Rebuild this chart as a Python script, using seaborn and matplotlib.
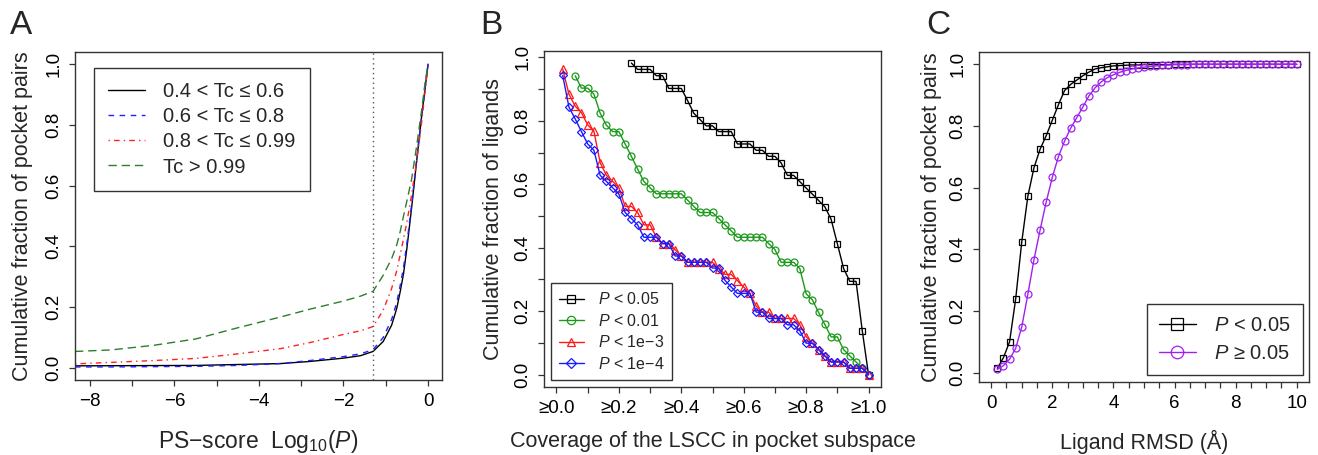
import numpy as np
import pandas as pd
import matplotlib
matplotlib.use('Agg')
import matplotlib.pyplot as plt
import seaborn as sns
from matplotlib.ticker import MultipleLocator

# ---- panel A: cumulative fraction vs log10(P) ----
a_x = [-8.35, -7.5, -6.5, -5.5, -4.5, -3.5, -2.8, -2.0, -1.6, -1.3,
       -1.06, -0.86, -0.74, -0.66, -0.58, -0.5, -0.39, -0.27, -0.15, -0.07, 0.0]
a_tc1 = [0.0066, 0.007, 0.0075, 0.008, 0.011, 0.014, 0.021, 0.032, 0.040, 0.054,
         0.087, 0.141, 0.196, 0.25, 0.31, 0.394, 0.525, 0.68, 0.83, 0.92, 1.0]
a_tc2 = [0.003, 0.003, 0.004, 0.005, 0.008, 0.014, 0.024, 0.037, 0.046, 0.060,
         0.100, 0.160, 0.215, 0.27, 0.33, 0.41, 0.535, 0.685, 0.83, 0.92, 1.0]
a_tc3 = [0.013, 0.018, 0.024, 0.031, 0.046, 0.063, 0.083, 0.110, 0.122, 0.136,
         0.19, 0.262, 0.32, 0.372, 0.425, 0.48, 0.569, 0.68, 0.81, 0.91, 1.0]
a_tc4 = [0.054, 0.059, 0.074, 0.095, 0.132, 0.167, 0.193, 0.220, 0.236, 0.252,
         0.305, 0.36, 0.405, 0.448, 0.50, 0.55, 0.62, 0.73, 0.85, 0.94, 1.0]
a_labels = ['0.4 < Tc \u2264 0.6', '0.6 < Tc \u2264 0.8',
            '0.8 < Tc \u2264 0.99', 'Tc > 0.99']
p_cut = 0.05

# ---- panel B: cumulative fraction of ligands vs LSCC coverage ----
b_x_p05 = [0.24, 0.26, 0.28, 0.30, 0.32, 0.34, 0.36, 0.38, 0.40, 0.42, 0.44, 0.46, 0.48,
           0.50, 0.52, 0.54, 0.56, 0.58, 0.60, 0.62, 0.64, 0.66, 0.68, 0.70, 0.72, 0.74,
           0.76, 0.78, 0.80, 0.82, 0.84, 0.86, 0.88, 0.90, 0.92, 0.94, 0.96, 0.98, 1.00]
b_p05 = [0.982, 0.962, 0.962, 0.962, 0.942, 0.942, 0.902, 0.902, 0.902, 0.864, 0.824, 0.804,
         0.784, 0.784, 0.766, 0.766, 0.766, 0.727, 0.727, 0.727, 0.707, 0.707, 0.688, 0.688,
         0.667, 0.628, 0.628, 0.608, 0.588, 0.569, 0.549, 0.529, 0.490, 0.413, 0.335, 0.294,
         0.294, 0.138, 0.0]
b_x_p01 = [0.06, 0.08, 0.10, 0.12, 0.14, 0.16, 0.18, 0.20, 0.22, 0.24, 0.26, 0.28, 0.30,
           0.32, 0.34, 0.36, 0.38, 0.40, 0.42, 0.44, 0.46, 0.48, 0.50, 0.52, 0.54, 0.56,
           0.58, 0.60, 0.62, 0.64, 0.66, 0.68, 0.70, 0.72, 0.74, 0.76, 0.78, 0.80, 0.82,
           0.84, 0.86, 0.88, 0.90, 0.92, 0.94, 0.96, 0.98, 1.00]
b_p01 = [0.942, 0.903, 0.903, 0.884, 0.824, 0.786, 0.766, 0.766, 0.727, 0.688, 0.648, 0.609,
         0.589, 0.570, 0.570, 0.570, 0.570, 0.570, 0.550, 0.530, 0.511, 0.511, 0.511, 0.492,
         0.472, 0.453, 0.433, 0.433, 0.433, 0.433, 0.433, 0.413, 0.394, 0.354, 0.354, 0.354,
         0.334, 0.255, 0.236, 0.196, 0.158, 0.119, 0.119, 0.079, 0.059, 0.040, 0.020, 0.0]
b_x_low = [0.02, 0.04, 0.06, 0.08, 0.10, 0.12, 0.14, 0.16, 0.18, 0.20, 0.22, 0.24, 0.26,
           0.28, 0.30, 0.32, 0.34, 0.36, 0.38, 0.40, 0.42, 0.44, 0.46, 0.48, 0.50, 0.52,
           0.54, 0.56, 0.58, 0.60, 0.62, 0.64, 0.66, 0.68, 0.70, 0.72, 0.74, 0.76, 0.78,
           0.80, 0.82, 0.84, 0.86, 0.88, 0.90, 0.92, 0.94, 0.96, 0.98, 1.00]
b_p1e3 = [0.963, 0.884, 0.846, 0.826, 0.787, 0.767, 0.668, 0.628, 0.609, 0.589, 0.530, 0.530,
          0.511, 0.472, 0.472, 0.433, 0.413, 0.413, 0.394, 0.374, 0.354, 0.354, 0.354, 0.354,
          0.354, 0.334, 0.316, 0.316, 0.296, 0.276, 0.256, 0.216, 0.197, 0.197, 0.177, 0.177,
          0.177, 0.177, 0.157, 0.120, 0.099, 0.079, 0.059, 0.040, 0.040, 0.040, 0.020, 0.020,
          0.020, 0.0]
b_p1e4 = [0.943, 0.843, 0.806, 0.766, 0.727, 0.707, 0.628, 0.609, 0.589, 0.569, 0.511, 0.492,
          0.472, 0.433, 0.433, 0.433, 0.413, 0.413, 0.374, 0.374, 0.354, 0.354, 0.354, 0.354,
          0.336, 0.336, 0.297, 0.276, 0.256, 0.256, 0.256, 0.197, 0.197, 0.177, 0.177, 0.177,
          0.157, 0.157, 0.138, 0.099, 0.099, 0.079, 0.059, 0.040, 0.040, 0.040, 0.020, 0.020,
          0.020, 0.0]
b_ticks = ['\u22650.0', '\u22650.2', '\u22650.4', '\u22650.6', '\u22650.8', '\u22651.0']

# ---- panel C: cumulative fraction vs ligand RMSD ----
c_x = [0.2, 0.4, 0.6, 0.8, 1.0, 1.2, 1.4, 1.6, 1.8, 2.0, 2.2, 2.4, 2.6, 2.8, 3.0, 3.2, 3.4,
       3.6, 3.8, 4.0, 4.2, 4.4, 4.6, 4.8, 5.0, 5.2, 5.4, 5.6, 5.8, 6.0, 6.2, 6.4, 6.6, 6.8,
       7.0, 7.2, 7.4, 7.6, 7.8, 8.0, 8.2, 8.4, 8.6, 8.8, 9.0, 9.2, 9.4, 9.6, 9.8, 10.0]
c_sig = [0.014, 0.049, 0.100, 0.239, 0.425, 0.573, 0.665, 0.725, 0.769, 0.819, 0.869, 0.915,
         0.935, 0.949, 0.963, 0.975, 0.985, 0.989, 0.992, 0.995, 0.996, 0.997, 0.998, 0.998,
         0.999, 0.999, 0.999, 0.999, 0.999, 1.0, 1.0, 1.0, 1.0, 1.0, 1.0, 1.0, 1.0, 1.0, 1.0,
         1.0, 1.0, 1.0, 1.0, 1.0, 1.0, 1.0, 1.0, 1.0, 1.0, 1.0]
c_nonsig = [0.011, 0.023, 0.044, 0.079, 0.149, 0.255, 0.367, 0.463, 0.554, 0.634, 0.701,
            0.751, 0.793, 0.827, 0.862, 0.898, 0.924, 0.943, 0.957, 0.966, 0.974, 0.980,
            0.985, 0.988, 0.991, 0.993, 0.995, 0.997, 0.998, 0.999, 0.999, 0.999, 1.0, 1.0,
            1.0, 1.0, 1.0, 1.0, 1.0, 1.0, 1.0, 1.0, 1.0, 1.0, 1.0, 1.0, 1.0, 1.0, 1.0, 1.0]

sns.set_theme(style='ticks')
plt.rcParams['font.family'] = ['Liberation Sans', 'DejaVu Sans']
plt.rcParams['mathtext.fontset'] = 'custom'
plt.rcParams['mathtext.rm'] = 'Liberation Sans'
plt.rcParams['mathtext.it'] = 'Liberation Sans:italic'
plt.rcParams['axes.edgecolor'] = '#333333'
plt.rcParams['axes.linewidth'] = 1.0
plt.rcParams['xtick.color'] = '#333333'
plt.rcParams['ytick.color'] = '#333333'
plt.rcParams['xtick.labelcolor'] = 'black'
plt.rcParams['ytick.labelcolor'] = 'black'

fig = plt.figure(figsize=(13.18, 4.55), dpi=100)
W, H = 1318, 455
LAB = 15.5


def add_ax(l, t, r, b):
    return fig.add_axes([l / W, 1 - b / H, (r - l) / W, (b - t) / H])


axA = add_ax(75, 52, 442, 380)
axB = add_ax(544, 51, 881, 387)
axC = add_ax(979, 52, 1309, 382)


def style_ax(ax):
    for s in ax.spines.values():
        s.set_visible(True)
    ax.tick_params(axis='both', which='both', direction='out', length=4.2, width=0.9,
                   labelsize=13.5, pad=5)
    ax.tick_params(axis='y', labelrotation=90)
    for lab in ax.get_yticklabels():
        lab.set_va('center')
    ax.grid(False)


# panel A
greenA = '#2e7d2e'
a_specs = [(a_tc1, 'black', '-'), (a_tc2, '#1f1fff', (0, (4, 4))),
           (a_tc3, '#ff2020', (0, (1, 3, 4, 3))), (a_tc4, greenA, (0, (6, 3.5)))]
for (ys, col, ls), lab in zip(a_specs, a_labels):
    sns.lineplot(x=a_x, y=ys, ax=axA, color=col, linestyle=ls, lw=1.0,
                 estimator=None, sort=False, label=lab)
axA.axvline(np.log10(p_cut), color='#555555', lw=1.0, linestyle=(0, (1, 2.5)))
axA.set_xlim(-8.35, 0.33)
axA.set_ylim(-0.04, 1.04)
axA.xaxis.set_major_locator(MultipleLocator(1))
axA.set_xticks(np.arange(-8, 1, 1))
axA.set_xticklabels(['\u22128', '', '\u22126', '', '\u22124', '', '\u22122', '', '0'])
axA.set_yticks([0, 0.2, 0.4, 0.6, 0.8, 1.0])
axA.set_yticklabels(['0.0', '0.2', '0.4', '0.6', '0.8', '1.0'])
style_ax(axA)
axA.set_xlabel('PS\u2212score  Log$_{10}$($P$)', fontsize=16.5, va='center')
axA.xaxis.set_label_coords(0.5, (380 - 441.7) / 328)
axA.set_ylabel('Cumulative fraction of pocket pairs', fontsize=LAB, va='center')
axA.yaxis.set_label_coords((23 - 75) / 367, 0.5)
legA = axA.legend(loc='upper left', bbox_to_anchor=((93.7 - 75) / 367, (380 - 68.3) / 328),
                  borderaxespad=0, fontsize=14.5, handlelength=1.85, handletextpad=0.9,
                  labelspacing=0.3, borderpad=0.7, fancybox=False, framealpha=1,
                  edgecolor='#333333')
legA.get_frame().set_linewidth(1.0)

# panel B
ms = 4.6
b_specs = [(b_x_p05, b_p05, 'black', 's', ms, '$P$ < 0.05'),
           (b_x_p01, b_p01, '#1a9a1a', 'o', ms + 0.4, '$P$ < 0.01'),
           (b_x_low, b_p1e3, '#ff1a1a', '^', ms + 0.6, '$P$ < 1e\u22123'),
           (b_x_low, b_p1e4, '#1a1aff', 'D', ms - 0.4, '$P$ < 1e\u22124')]
for xs, ys, col, mk, m_s, lab in b_specs:
    sns.lineplot(x=xs, y=ys, ax=axB, color=col, lw=1.0, marker=mk, markersize=m_s,
                 markerfacecolor='none', markeredgecolor=col, markeredgewidth=0.9,
                 estimator=None, sort=False, label=lab)
axB.set_xlim(-0.04, 1.04)
axB.set_ylim(-0.039, 1.02)
axB.set_xticks(np.arange(0, 1.01, 0.1))
axB.set_xticklabels([b_ticks[i // 2] if i % 2 == 0 else '' for i in range(11)])
axB.set_yticks(np.arange(0, 1.01, 0.1))
axB.set_yticklabels(['0.0', '', '0.2', '', '0.4', '', '0.6', '', '0.8', '', '1.0'])
style_ax(axB)
axB.set_xlabel('Coverage of the LSCC in pocket subspace', fontsize=LAB, va='center')
axB.xaxis.set_label_coords(0.5, (387 - 441.7) / 336)
axB.set_ylabel('Cumulative fraction of ligands', fontsize=LAB, va='center')
axB.yaxis.set_label_coords((493 - 544) / 337, 0.5)
legB = axB.legend(loc='lower left', bbox_to_anchor=((550.7 - 544) / 337, (387 - 380) / 336),
                  borderaxespad=0, fontsize=11.5, handlelength=1.6, handletextpad=0.85,
                  labelspacing=0.35, borderpad=0.5, fancybox=False, framealpha=1,
                  edgecolor='#333333', markerscale=1.2)
legB.get_frame().set_linewidth(1.0)

# panel C
c_specs = [(c_sig, 'black', 's', 4.4, '$P$ < 0.05'),
           (c_nonsig, '#a020f0', 'o', 5.0, '$P$ \u2265 0.05')]
for ys, col, mk, m_s, lab in c_specs:
    sns.lineplot(x=c_x, y=ys, ax=axC, color=col, lw=1.0, marker=mk, markersize=m_s,
                 markerfacecolor='none', markeredgecolor=col, markeredgewidth=0.9,
                 estimator=None, sort=False, label=lab)
axC.set_xlim(-0.4, 10.4)
axC.set_ylim(-0.03, 1.04)
axC.set_xticks(np.arange(0, 10.01, 0.5))
axC.set_xticklabels([str(int(v)) if v % 2 == 0 else '' for v in np.arange(0, 10.01, 0.5)])
axC.set_yticks([0, 0.2, 0.4, 0.6, 0.8, 1.0])
axC.set_yticklabels(['0.0', '0.2', '0.4', '0.6', '0.8', '1.0'])
style_ax(axC)
axC.set_xlabel('Ligand RMSD (\u00c5)', fontsize=LAB, va='center')
axC.xaxis.set_label_coords(0.5, (382 - 441.7) / 330)
axC.set_ylabel('Cumulative fraction of pocket pairs', fontsize=LAB, va='center')
axC.yaxis.set_label_coords((931.7 - 979) / 330, 0.5)
legC = axC.legend(loc='lower right', bbox_to_anchor=((1302.7 - 979) / 330, (382 - 375) / 330),
                  borderaxespad=0, fontsize=14.5, handlelength=1.85, handletextpad=0.9,
                  labelspacing=0.45, borderpad=0.6, fancybox=False, framealpha=1,
                  edgecolor='#333333', markerscale=1.8)
legC.get_frame().set_linewidth(1.0)

# panel letters
for x, lab in [(21, 'A'), (491.7, 'B'), (938, 'C')]:
    fig.text(x / W, 1 - 25 / H, lab, fontsize=24, ha='center', va='center')

fig.savefig('out.png', dpi=100)
